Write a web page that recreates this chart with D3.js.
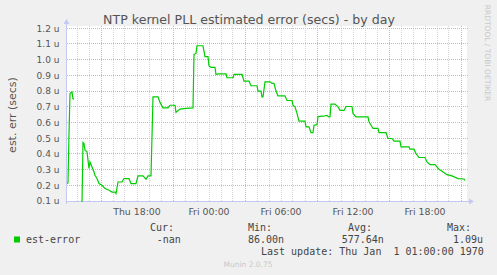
<!DOCTYPE html>
<html><head><meta charset="utf-8">
<script src="https://cdn.jsdelivr.net/npm/d3@7"></script>
<style>html,body{margin:0;padding:0;background:#f0f0f0;overflow:hidden}</style>
</head><body>
<script>
// ---- data ----
const times = ["Thu 12:10","Thu 12:15","Thu 12:20","Thu 12:25","Thu 12:30","Thu 12:35","Thu 12:40","Thu 12:45","Thu 12:50",
"Thu 13:25","Thu 13:30","Thu 13:35","Thu 13:40","Thu 13:50","Thu 14:00","Thu 14:05","Thu 14:15","Thu 14:25","Thu 14:30","Thu 14:40","Thu 14:50",
"Thu 15:05","Thu 15:20","Thu 15:40","Thu 15:55","Thu 16:10","Thu 16:15","Thu 16:25","Thu 16:45","Thu 16:55","Thu 17:20","Thu 17:30","Thu 17:55",
"Thu 18:05","Thu 18:30","Thu 18:45","Thu 18:55","Thu 19:10","Thu 19:20","Thu 19:45","Thu 19:55","Thu 20:10","Thu 20:35","Thu 20:45","Thu 21:10",
"Thu 21:15","Thu 21:35","Thu 22:05","Thu 22:40","Thu 22:45","Thu 22:55","Thu 23:00","Thu 23:30","Thu 23:40","Thu 23:55",
"Fri 00:00","Fri 00:10","Fri 00:30","Fri 00:35","Fri 00:45","Fri 01:25","Fri 01:30","Fri 02:00","Fri 02:05","Fri 02:45","Fri 02:55","Fri 03:20",
"Fri 03:30","Fri 04:00","Fri 04:05","Fri 04:20","Fri 04:25","Fri 04:30","Fri 04:40","Fri 05:05","Fri 05:15","Fri 05:25","Fri 05:35","Fri 05:45",
"Fri 06:20","Fri 06:30","Fri 06:55","Fri 07:00","Fri 07:10","Fri 07:20","Fri 07:30","Fri 08:00","Fri 08:05","Fri 08:20","Fri 08:30","Fri 08:40",
"Fri 08:45","Fri 09:00","Fri 09:05","Fri 09:30","Fri 09:50","Fri 10:00","Fri 10:05","Fri 10:10","Fri 10:30","Fri 10:45","Fri 10:55","Fri 11:15",
"Fri 11:25","Fri 11:55","Fri 12:00","Fri 12:15","Fri 13:15","Fri 13:20","Fri 13:40","Fri 14:05","Fri 14:10","Fri 14:45","Fri 14:55","Fri 15:15",
"Fri 15:25","Fri 15:55","Fri 16:00","Fri 16:40","Fri 16:45","Fri 17:05","Fri 17:15","Fri 17:30","Fri 18:00","Fri 18:10","Fri 18:25","Fri 18:50",
"Fri 19:10","Fri 19:25","Fri 19:50","Fri 20:15","Fri 20:45","Fri 21:15","Fri 21:20"];
const values = [0.211,0.215,0.53,0.785,0.79,0.795,0.75,0.75,null,
0.086,0.473,0.466,0.423,0.413,0.307,0.349,0.317,0.285,0.264,0.243,0.211,
0.2,0.179,0.168,0.157,0.157,0.147,0.221,0.221,0.243,0.243,0.211,0.211,
0.26,0.26,0.238,0.26,0.26,0.763,0.763,0.728,0.693,0.693,0.71,0.71,
0.664,0.685,0.69,0.693,1.034,1.04,1.089,1.089,1.019,1.019,
0.961,0.951,0.951,0.906,0.91,0.91,0.885,0.885,0.906,0.906,0.864,0.864,
0.834,0.834,0.8,0.8,0.763,0.763,0.859,0.859,0.849,0.849,0.8,0.77,
0.77,0.74,0.74,0.71,0.7,0.658,0.609,0.609,0.572,0.572,0.536,0.536,
0.583,0.586,0.638,0.64,0.645,0.635,0.635,0.717,0.717,0.7,0.677,0.677,
0.702,0.702,0.658,0.636,0.636,0.604,0.562,0.562,0.536,0.536,0.498,0.498,
0.481,0.481,0.445,0.445,0.43,0.43,0.402,0.377,0.377,0.349,0.332,0.332,
0.302,0.29,0.268,0.26,0.243,0.24,0.232];
const yTickValues = [0.1,0.2,0.3,0.4,0.5,0.6,0.7,0.8,0.9,1.0,1.1,1.2];
const yTickLabels = ["0.1 u","0.2 u","0.3 u","0.4 u","0.5 u","0.6 u","0.7 u","0.8 u","0.9 u","1.0 u","1.1 u","1.2 u"];
const xLabelTimes = ["Thu 18:00","Fri 00:00","Fri 06:00","Fri 12:00","Fri 18:00"];
const timeStart = "Thu 12:10", timeEnd = "Fri 21:30";
const seriesName = "est-error";
const legendHeaders = ["Cur:","Min:","Avg:","Max:"];
const legendValues = ["-nan","86.00n","577.64n","1.09u"];
const title = "NTP kernel PLL estimated error (secs) - by day";
const yTitle = "est. err (secs)";
const lastUpdate = "Last update: Thu Jan  1 01:00:00 1970";
const sideText = "RRDTOOL / TOBI OETIKER";
const footer = "Munin 2.0.75";

// ---- drawing ----
function parseT(s){const [d,hm]=s.split(" ");const [h,m]=hm.split(":").map(Number);return new Date(2024,0,d==="Thu"?4:5,h,m);}
const W=497,H=275;
const L=67,R=467,T=26,B=201;
const svg=d3.select("body").append("svg").attr("width",W).attr("height",H)
  .style("display","block").style("font-family","'DejaVu Sans',sans-serif");
svg.append("rect").attr("width",W).attr("height",H).attr("fill","#f0f0f0");
const x=d3.scaleTime().domain([parseT(timeStart),parseT(timeEnd)]).range([L,R]);
const y=d3.scaleLinear().domain([0.1,1.2]).range([201,28.3]);
svg.append("rect").attr("x",L).attr("y",T).attr("width",R-L).attr("height",B-T).attr("fill","#ffffff");

const crisp=v=>Math.floor(v)+0.5;
// minor vertical grid (hourly)
const hours=d3.timeHour.range(x.domain()[0],x.domain()[1]);
const g=svg.append("g");
hours.filter(d=>d.getHours()%6!==3).forEach(d=>{
  g.append("line").attr("x1",crisp(x(d))).attr("x2",crisp(x(d))).attr("y1",T).attr("y2",B)
   .attr("stroke","#d4d4d4").attr("stroke-dasharray","1,1");
});
// horizontal grid
yTickValues.forEach(v=>{
  g.append("line").attr("x1",L).attr("x2",R+1).attr("y1",crisp(y(v))).attr("y2",crisp(y(v)))
   .attr("stroke","#eeaaaa").attr("stroke-dasharray","1,1");
});
// major vertical grid
hours.filter(d=>d.getHours()%6===3).forEach(d=>{
  g.append("line").attr("x1",crisp(x(d))).attr("x2",crisp(x(d))).attr("y1",T).attr("y2",B)
   .attr("stroke","#eeaaaa").attr("stroke-dasharray","1,1");
});
// y tick labels
yTickValues.forEach((v,i)=>{
  svg.append("text").attr("x",59.5).attr("y",y(v)+3.3).attr("text-anchor","end")
   .attr("font-size","9px").attr("fill","#555").text(yTickLabels[i]);
});
// x tick labels
const fmt=d3.timeFormat("%a %H:%M");
xLabelTimes.forEach(s=>{
  const d=parseT(s);
  svg.append("text").attr("x",x(d)).attr("y",215).attr("text-anchor","middle")
   .attr("font-size","9.4px").attr("fill","#555").text(fmt(d));
});
// axes with arrows
const axc="#c4c8f4";
svg.append("line").attr("x1",L-1).attr("x2",R+3).attr("y1",B+0.5).attr("y2",B+0.5).attr("stroke",axc);
svg.append("path").attr("d",`M${R+2},${B-2.5}L${R+7},${B+0.5}L${R+2},${B+3.5}Z`).attr("fill",axc);
svg.append("line").attr("x1",L-0.5).attr("x2",L-0.5).attr("y1",B+3).attr("y2",T-3).attr("stroke",axc);
svg.append("path").attr("d",`M${L-3.5},${T-2}L${L-0.5},${T-7}L${L+2.5},${T-2}Z`).attr("fill",axc);

// data line
svg.append("clipPath").attr("id","clip").append("rect").attr("x",L).attr("y",T).attr("width",R-L).attr("height",B-T+1);
const pts=times.map((t,i)=>({t:parseT(t),v:values[i]}));
const line=d3.line().defined(d=>d.v!==null).x(d=>x(d.t)).y(d=>y(d.v));
svg.append("path").attr("clip-path","url(#clip)").attr("d",line(pts)).attr("fill","none")
  .attr("stroke","#00cc00").attr("stroke-width",1.2);

// title
svg.append("text").attr("x",249).attr("y",24).attr("text-anchor","middle")
  .attr("font-size","12.6px").attr("fill","#555").text(title);
// y title
svg.append("text").attr("transform","translate(15.5,115) rotate(-90)").attr("text-anchor","middle")
  .attr("font-size","11px").attr("fill","#555").text(yTitle);
// side text
svg.append("text").attr("transform","translate(484.5,53) rotate(90)").attr("text-anchor","middle")
  .attr("font-size","7.5px").attr("fill","#c8c8c8").text(sideText);

// legend
const mono="'DejaVu Sans Mono',monospace";
svg.append("rect").attr("x",14).attr("y",236.5).attr("width",6).attr("height",6).attr("fill","#00cc00");
svg.append("text").attr("x",26).attr("y",243).attr("font-family",mono).attr("font-size","10px").attr("fill","#444").text(seriesName);
const hx=[150,248,348,447], vx=[156.7,248,341.7,453];
legendHeaders.forEach((h,i)=>{
  svg.append("text").attr("x",hx[i]).attr("y",231).attr("font-family",mono).attr("font-size","10px").attr("fill","#444").text(h);
  svg.append("text").attr("x",vx[i]).attr("y",243).attr("font-family",mono).attr("font-size","10px").attr("fill","#444").text(legendValues[i]);
});
svg.append("text").attr("x",261).attr("y",255).attr("font-family",mono).attr("font-size","10px").attr("fill","#444")
  .attr("xml:space","preserve").style("white-space","pre").text(lastUpdate);
svg.append("text").attr("x",248).attr("y",267).attr("text-anchor","middle").attr("font-size","7.5px").attr("fill","#c8c8c8").text(footer);
</script>
</body></html>
